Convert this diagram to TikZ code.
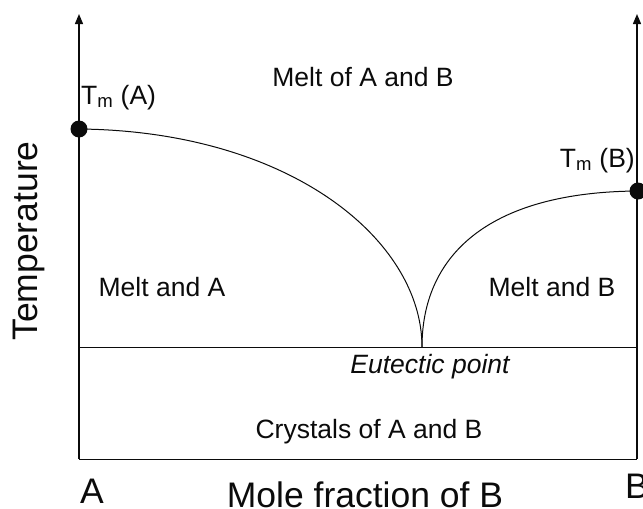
\documentclass[tikz,border=0pt]{standalone}
\usepackage{fontspec}
\setmainfont{Liberation Sans}
\usetikzlibrary{arrows.meta,positioning}
\definecolor{ink}{HTML}{0B0B0B}
\tikzset{
  every node/.style={text=ink},
  axis/.style={-{Triangle[length=10pt,width=8pt]}, line width=1.3pt, color=ink},
  phase/.style={line width=1pt, color=ink},
  lbl/.style={font=\fontsize{26.5}{30}\selectfont, inner sep=0pt},
  axlbl/.style={font=\fontsize{35.5}{40}\selectfont, inner sep=0pt},
  melt/.style={circle, fill=ink, minimum size=17pt, inner sep=0pt},
}
\begin{document}
\begin{tikzpicture}[x=1pt,y=-1pt]
  \useasboundingbox (0,0) rectangle (643,509);
  % ---- axes and the frame ----
  \coordinate (a0) at (79,459);
  \coordinate (b0) at (637,459);
  \coordinate (atop) at (79,14);
  \coordinate (btop) at (637,14);
  \draw[axis] (a0) -- (atop);
  \draw[axis] (b0) -- (btop);
  \draw[phase] (a0) -- (b0);

  % ---- eutectic line and liquidus curves ----
  \coordinate (el) at (79,347);
  \coordinate (er) at (637,347);
  \coordinate (eut) at (422,347);
  \draw[phase] (el) -- (er);
  \node[melt] (tma) at (79,129) {};
  \node[melt] (tmb) at (638,191) {};
  \draw[phase] (tma.center) .. controls (290,131) and (422,240) .. (eut);
  \draw[phase] (tmb.center) .. controls (485,192) and (422,258) .. (eut);

  % ---- labels ----
  \node[lbl, anchor=base west] (la) at (81,104) {T\textsubscript{m} (A)};
  \node[lbl, anchor=base east] (lb) at (635,167) {T\textsubscript{m} (B)};
  \node[lbl] (liq)  at (363,77)  {Melt of A and B};
  \node[lbl] (mla)  at (162,287) {Melt and A};
  \node[lbl] (mlb)  at (552,287) {Melt and B};
  \node[lbl, font=\fontsize{26.5}{30}\selectfont\itshape] (ep) at (430,367) {Eutectic point};
  \node[lbl] (cry)  at (369,432) {Crystals of A and B};
  \node[axlbl] (xa) at (92,491) {A};
  \node[axlbl, anchor=west] (xb) at (625,486) {B};
  \node[axlbl] (xl) at (365,495) {Mole fraction of B};
  \node[axlbl, rotate=90] (yl) at (29,241) {Temperature};
\end{tikzpicture}
\end{document}
